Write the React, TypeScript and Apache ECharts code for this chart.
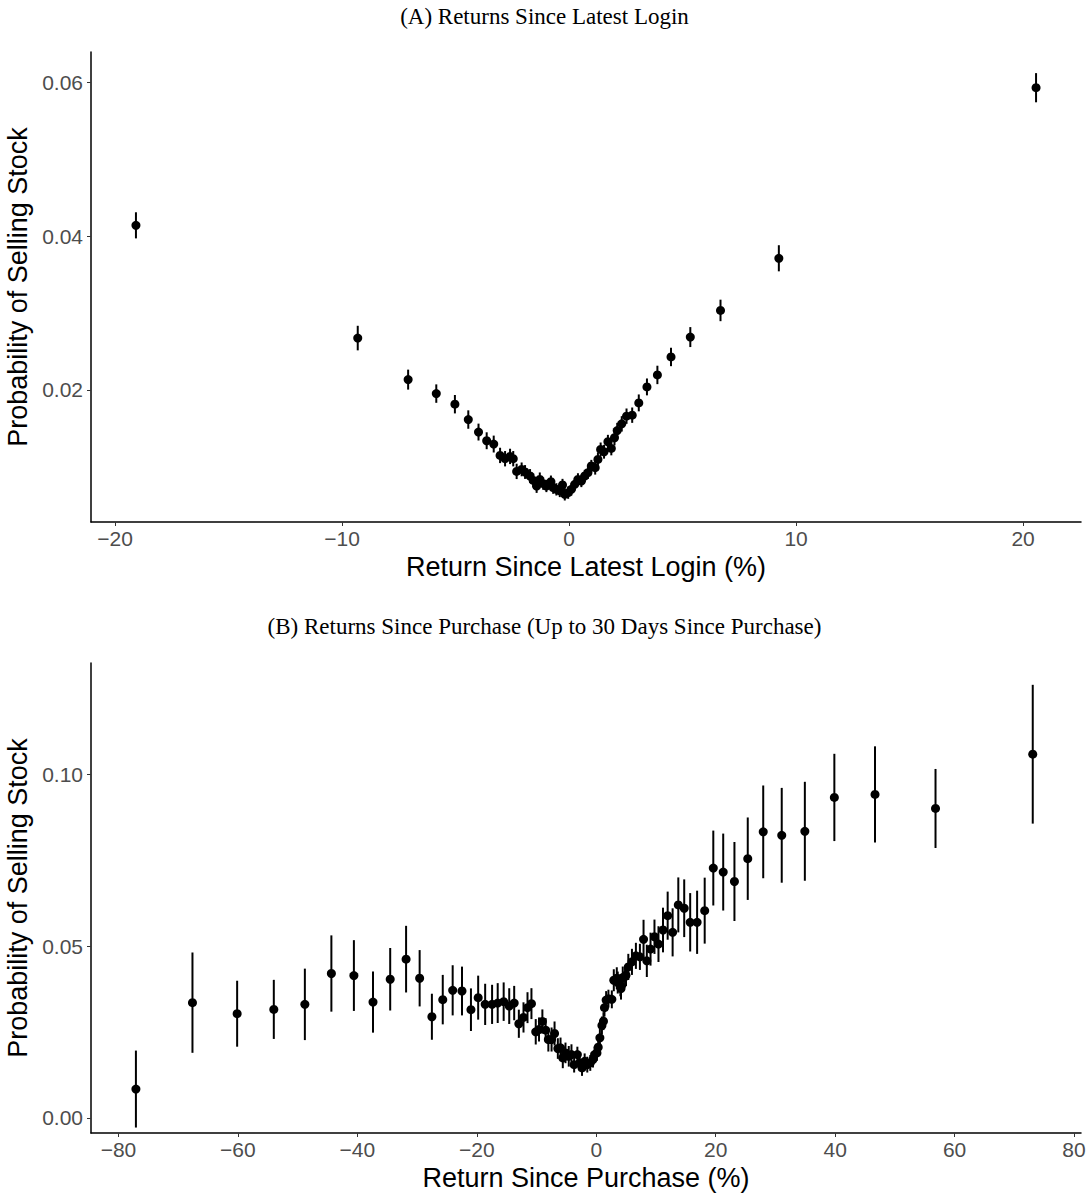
import React, { useEffect, useRef } from "react";
import * as echarts from "echarts";

// Panel A: Return since latest login (%)
const loginX = [-19.08, -9.31, -7.09, -5.85, -5.03, -4.44, -3.99, -3.63, -3.32, -3.04, -2.82, -2.6, -2.46, -2.31, -2.09, -1.94, -1.72, -1.58, -1.43, -1.29, -1.14, -1.0, -0.8, -0.7, -0.56, -0.41, -0.29, -0.19, -0.04, 0.1, 0.25, 0.39, 0.54, 0.69, 0.83, 0.98, 1.15, 1.27, 1.39, 1.54, 1.71, 1.86, 2.0, 2.12, 2.32, 2.53, 2.78, 3.07, 3.43, 3.89, 4.49, 5.34, 6.67, 9.24, 20.57];
const loginY = [0.04143, 0.02675, 0.02134, 0.01952, 0.01814, 0.01614, 0.01451, 0.01338, 0.01295, 0.01147, 0.01104, 0.01134, 0.01104, 0.00939, 0.00965, 0.00931, 0.00879, 0.00822, 0.00749, 0.00835, 0.00779, 0.00749, 0.00805, 0.00727, 0.00705, 0.00684, 0.00762, 0.0064, 0.00662, 0.00705, 0.0077, 0.00835, 0.00814, 0.00879, 0.00922, 0.01009, 0.00987, 0.01095, 0.01225, 0.01195, 0.01325, 0.01238, 0.01377, 0.01471, 0.01558, 0.01658, 0.01671, 0.01831, 0.02039, 0.02195, 0.02429, 0.02688, 0.03035, 0.03714, 0.05935];
const loginErr = [0.0017, 0.0016, 0.0013, 0.0012, 0.0012, 0.0012, 0.0011, 0.0011, 0.0011, 0.001, 0.001, 0.001, 0.001, 0.001, 0.0009, 0.0009, 0.0009, 0.0009, 0.0009, 0.0009, 0.0008, 0.0008, 0.0008, 0.0008, 0.0008, 0.0008, 0.0008, 0.0008, 0.0008, 0.0008, 0.0008, 0.0008, 0.0008, 0.0008, 0.0008, 0.0008, 0.0009, 0.0009, 0.0009, 0.0009, 0.0009, 0.0009, 0.001, 0.001, 0.001, 0.001, 0.001, 0.0011, 0.0011, 0.0012, 0.0012, 0.0013, 0.0014, 0.0017, 0.0019];

// Panel B: Return since purchase (%)
const purchX = [-77.08, -67.61, -60.13, -53.99, -48.79, -44.35, -40.58, -37.38, -34.5, -31.84, -29.57, -27.52, -25.7, -24.04, -22.48, -20.98, -19.77, -18.6, -17.44, -16.5, -15.5, -14.57, -13.74, -12.96, -12.18, -11.51, -10.85, -10.13, -9.58, -9.02, -8.47, -8.02, -7.48, -6.98, -6.43, -5.98, -5.6, -5.15, -4.6, -4.15, -3.7, -3.16, -2.77, -2.38, -1.94, -1.5, -1.0, -0.55, -0.28, 0.12, 0.33, 0.61, 0.95, 1.21, 1.38, 1.66, 2.04, 2.61, 2.94, 3.44, 3.6, 4.04, 4.15, 4.44, 4.82, 4.98, 5.37, 5.98, 6.64, 7.31, 7.92, 8.47, 9.09, 9.75, 10.42, 11.18, 11.96, 12.79, 13.74, 14.73, 15.73, 16.89, 18.16, 19.6, 21.26, 23.14, 25.37, 27.96, 31.06, 34.93, 39.87, 46.68, 56.81, 73.09];
const purchY = [0.00839, 0.03354, 0.03032, 0.03158, 0.03304, 0.04202, 0.04143, 0.03371, 0.04035, 0.0462, 0.04064, 0.02944, 0.03442, 0.03713, 0.03693, 0.03149, 0.035, 0.03304, 0.03304, 0.03342, 0.03383, 0.03254, 0.03342, 0.0274, 0.02924, 0.03208, 0.03325, 0.02506, 0.02573, 0.02807, 0.02553, 0.02281, 0.02281, 0.02456, 0.02018, 0.02038, 0.01746, 0.01892, 0.01792, 0.01842, 0.0155, 0.01842, 0.01599, 0.01453, 0.01646, 0.0155, 0.01599, 0.01696, 0.01842, 0.01892, 0.02056, 0.0233, 0.0269, 0.02816, 0.03208, 0.0343, 0.03471, 0.0345, 0.04006, 0.04064, 0.03939, 0.0386, 0.03763, 0.04085, 0.04114, 0.04152, 0.04395, 0.04541, 0.04716, 0.04687, 0.05196, 0.0457, 0.04912, 0.05272, 0.05058, 0.05468, 0.05886, 0.054, 0.06199, 0.06102, 0.05693, 0.05693, 0.06032, 0.07272, 0.07155, 0.0688, 0.07544, 0.08325, 0.08225, 0.08342, 0.09327, 0.09415, 0.09006, 0.10585];
const purchErr = [0.0112, 0.0146, 0.0096, 0.0086, 0.0104, 0.0111, 0.0103, 0.0089, 0.0091, 0.0097, 0.0082, 0.0067, 0.0072, 0.0073, 0.0071, 0.0062, 0.0064, 0.006, 0.0057, 0.0058, 0.0056, 0.0052, 0.005, 0.0041, 0.0044, 0.0045, 0.0045, 0.0037, 0.0035, 0.0035, 0.0035, 0.0035, 0.0035, 0.0035, 0.003, 0.003, 0.003, 0.003, 0.003, 0.003, 0.0023, 0.0023, 0.0023, 0.0023, 0.0023, 0.0023, 0.0023, 0.0023, 0.0023, 0.0023, 0.0026, 0.0026, 0.0026, 0.0026, 0.0026, 0.0026, 0.0026, 0.0026, 0.0032, 0.0032, 0.0032, 0.0032, 0.0032, 0.0032, 0.0032, 0.0032, 0.0038, 0.0038, 0.0038, 0.0038, 0.0057, 0.0047, 0.0048, 0.005, 0.0052, 0.0065, 0.007, 0.007, 0.008, 0.0084, 0.0085, 0.0092, 0.0096, 0.0109, 0.0112, 0.0115, 0.012, 0.0135, 0.0138, 0.0144, 0.0127, 0.014, 0.0115, 0.0202];

const loginXTicks = [-20, -10, 0, 10, 20];
const loginYTicks = [0.02, 0.04, 0.06];
const purchXTicks = [-80, -60, -40, -20, 0, 20, 40, 60, 80];
const purchYTicks = [0.0, 0.05, 0.1];

const titleA = "(A) Returns Since Latest Login";
const titleB = "(B) Returns Since Purchase (Up to 30 Days Since Purchase)";
const xNameA = "Return Since Latest Login (%)";
const xNameB = "Return Since Purchase (%)";
const yName = "Probability of Selling Stock";

const SANS = "Liberation Sans, Arial, Helvetica, sans-serif";
const SERIF = "Liberation Serif, Times New Roman, serif";

const fmtX = (v: number) => (v < 0 ? "\u2212" + Math.abs(v) : String(v));

function xAxisCfg(grid: number, min: number, max: number, ticks: number[], name: string) {
  return {
    type: "value",
    gridIndex: grid,
    min,
    max,
    name,
    nameLocation: "middle",
    nameGap: 31,
    nameTextStyle: { fontFamily: SANS, fontSize: 27, color: "#000" },
    axisLine: { show: true, onZero: false, lineStyle: { color: "#000", width: 1.5 } },
    axisTick: { show: true, length: 4, lineStyle: { color: "#333", width: 1 }, customValues: ticks },
    axisLabel: {
      fontFamily: SANS,
      fontSize: 21,
      color: "#4d4d4d",
      margin: 6,
      customValues: ticks,
      formatter: (v: number) => fmtX(v),
    },
    splitLine: { show: false },
  };
}

function yAxisCfg(grid: number, min: number, max: number, ticks: number[], digits: number) {
  return {
    type: "value",
    gridIndex: grid,
    min,
    max,
    name: yName,
    nameLocation: "middle",
    nameGap: 47,
    nameTextStyle: { fontFamily: SANS, fontSize: 27, color: "#000" },
    axisLine: { show: true, onZero: false, lineStyle: { color: "#000", width: 1.5 } },
    axisTick: { show: true, length: 4, lineStyle: { color: "#333", width: 1 }, customValues: ticks },
    axisLabel: {
      fontFamily: SANS,
      fontSize: 21,
      color: "#4d4d4d",
      margin: 8,
      customValues: ticks,
      formatter: (v: number) => v.toFixed(digits),
    },
    splitLine: { show: false },
  };
}

function errSeries(idx: number, xs: number[], ys: number[], es: number[]) {
  return {
    type: "custom",
    xAxisIndex: idx,
    yAxisIndex: idx,
    data: xs.map((x, i) => [x, ys[i] - es[i], ys[i] + es[i]]),
    renderItem: (params: any, api: any) => {
      const a = api.coord([api.value(0), api.value(1)]);
      const b = api.coord([api.value(0), api.value(2)]);
      return {
        type: "line",
        shape: { x1: a[0], y1: a[1], x2: b[0], y2: b[1] },
        style: { stroke: "#000", lineWidth: 2 },
      };
    },
    silent: true,
    z: 2,
  };
}

function ptSeries(idx: number, xs: number[], ys: number[]) {
  return {
    type: "scatter",
    xAxisIndex: idx,
    yAxisIndex: idx,
    data: xs.map((x, i) => [x, ys[i]]),
    symbol: "circle",
    symbolSize: 9,
    itemStyle: { color: "#000", opacity: 1 },
    silent: true,
    z: 3,
  };
}

export default function App() {
  const ref = useRef<HTMLDivElement>(null);
  useEffect(() => {
    if (!ref.current) return;
    const chart = echarts.init(ref.current, null, { renderer: "svg" });
    chart.setOption({
      animation: false,
      backgroundColor: "#fff",
      title: [
        {
          text: titleA,
          left: "center",
          top: 0,
          textStyle: { fontFamily: SERIF, fontSize: 23, fontWeight: "normal", color: "#000" },
        },
        {
          text: titleB,
          left: "center",
          top: 610,
          textStyle: { fontFamily: SERIF, fontSize: 23, fontWeight: "normal", color: "#000" },
        },
      ],
      grid: [
        { left: 91, right: 8, top: 52, height: 470, containLabel: false, outerBoundsMode: "none" },
        { left: 91, right: 8, top: 663, height: 470, containLabel: false, outerBoundsMode: "none" },
      ],
      xAxis: [
        xAxisCfg(0, -21.06, 22.55, loginXTicks, xNameA),
        xAxisCfg(1, -84.6, 81.17, purchXTicks, xNameB),
      ],
      yAxis: [
        yAxisCfg(0, 0.0028, 0.064, loginYTicks, 2),
        yAxisCfg(1, -0.0044, 0.1324, purchYTicks, 2),
      ],
      series: [
        errSeries(0, loginX, loginY, loginErr),
        ptSeries(0, loginX, loginY),
        errSeries(1, purchX, purchY, purchErr),
        ptSeries(1, purchX, purchY),
      ],
    });
    return () => chart.dispose();
  }, []);
  return (
    <div
      ref={ref}
      style={{ position: "absolute", left: 0, top: 0, width: 1089, height: 1194, background: "#fff" }}
    />
  );
}
